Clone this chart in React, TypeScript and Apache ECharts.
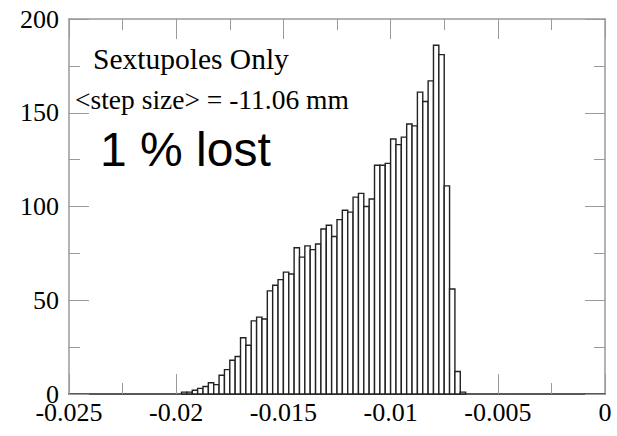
import React, { useEffect, useRef } from "react";
import * as echarts from "echarts";

// Histogram bin geometry (bin edges on x, width 0.00025)
const firstBinStart = -0.01975;
const binWidth = 0.00025;
// Counts per bin (bins from -0.01975 upward)
const counts = [
  1, 1, 2, 3, 4, 6, 5, 10, 13, 18, 20, 30, 26, 39, 41, 40, 55, 58, 61, 65,
  64, 78, 73, 79, 77, 80, 88, 90, 84, 93, 98, 97, 105, 107, 100, 104, 122,
  122, 123, 136, 133, 137, 144, 143, 161, 156, 167, 186, 181, 111, 56, 12, 1,
];
const xTicks = [-0.025, -0.02, -0.015, -0.01, -0.005, 0];
const yTicks = [0, 50, 100, 150, 200];
const title1 = "Sextupoles Only";
const title2 = "<step size> = -11.06 mm";
const lostText = "1 % lost";

const serif = '"Liberation Serif", "Times New Roman", serif';
const sans = '"Liberation Sans", Arial, sans-serif';

export default function App() {
  const ref = useRef<HTMLDivElement>(null);
  useEffect(() => {
    document.body.style.margin = "0";
    if (!ref.current) return;
    const chart = echarts.init(ref.current, null, { renderer: "svg" });
    const data = counts.map((c, i) => {
      const x0 = firstBinStart + i * binWidth;
      return [x0, x0 + binWidth, c];
    });
    const fmtX = (v: number) => {
      const r = parseFloat(v.toFixed(4));
      return r === 0 ? "0" : String(r);
    };
    const tickCol = "#9a9a9a";
    const xBase = {
      type: "value" as const,
      min: xTicks[0],
      max: xTicks[xTicks.length - 1],
      interval: 0.005,
      splitLine: { show: false },
      minorSplitLine: { show: false },
      axisTick: { show: true, inside: true, length: 20, lineStyle: { color: tickCol, width: 1 } },
      minorTick: { show: true, splitNumber: 2, length: 11, lineStyle: { color: tickCol, width: 1 } },
    };
    const yBase = {
      type: "value" as const,
      min: yTicks[0],
      max: yTicks[yTicks.length - 1],
      interval: 50,
      splitLine: { show: false },
      axisTick: { show: true, inside: true, length: 20, lineStyle: { color: tickCol, width: 1 } },
      minorTick: { show: true, splitNumber: 2, length: 11, lineStyle: { color: tickCol, width: 1 } },
    };
    chart.setOption({
      animation: false,
      backgroundColor: "#ffffff",
      grid: { left: 69, right: 12, top: 19, bottom: 42 },
      xAxis: [
        {
          ...xBase,
          position: "bottom",
          axisLine: { show: true, onZero: false, lineStyle: { color: "#222", width: 1.5 } },
          axisLabel: {
            show: true,
            margin: 5,
            fontFamily: serif,
            fontSize: 26,
            color: "#000",
            formatter: fmtX,
          },
        },
        {
          ...xBase,
          position: "top",
          axisLine: { show: true, onZero: false, lineStyle: { color: tickCol, width: 1.5 } },
          axisLabel: { show: false },
        },
      ],
      yAxis: [
        {
          ...yBase,
          position: "left",
          axisLine: { show: true, onZero: false, lineStyle: { color: tickCol, width: 1.5 } },
          axisLabel: {
            show: true,
            margin: 10,
            fontFamily: serif,
            fontSize: 26,
            color: "#000",
          },
        },
        {
          ...yBase,
          position: "right",
          axisLine: { show: true, onZero: false, lineStyle: { color: tickCol, width: 1.5 } },
          axisLabel: { show: false },
        },
      ],
      series: [
        {
          type: "custom",
          xAxisIndex: 0,
          yAxisIndex: 0,
          data,
          encode: { x: [0, 1], y: 2 },
          renderItem: (params: any, api: any) => {
            const x0 = api.value(0);
            const x1 = api.value(1);
            const c = api.value(2);
            const p0 = api.coord([x0, c]);
            const p1 = api.coord([x1, 0]);
            return {
              type: "rect",
              shape: { x: p0[0], y: p0[1], width: p1[0] - p0[0], height: p1[1] - p0[1] },
              style: { fill: "#ffffff", stroke: "#222", lineWidth: 1.4 },
            };
          },
        },
      ],
      graphic: [
        {
          type: "text",
          left: 93,
          top: 44,
          style: { text: title1, font: `29.5px ${serif}`, fill: "#000" },
        },
        {
          type: "text",
          left: 75,
          top: 85,
          style: { text: title2, font: `27.5px ${serif}`, fill: "#000" },
        },
        {
          type: "text",
          left: 100,
          top: 125,
          style: { text: lostText, font: `48px ${sans}`, fill: "#000" },
        },
      ],
    });
    return () => chart.dispose();
  }, []);
  return <div ref={ref} style={{ width: 617, height: 436 }} />;
}
